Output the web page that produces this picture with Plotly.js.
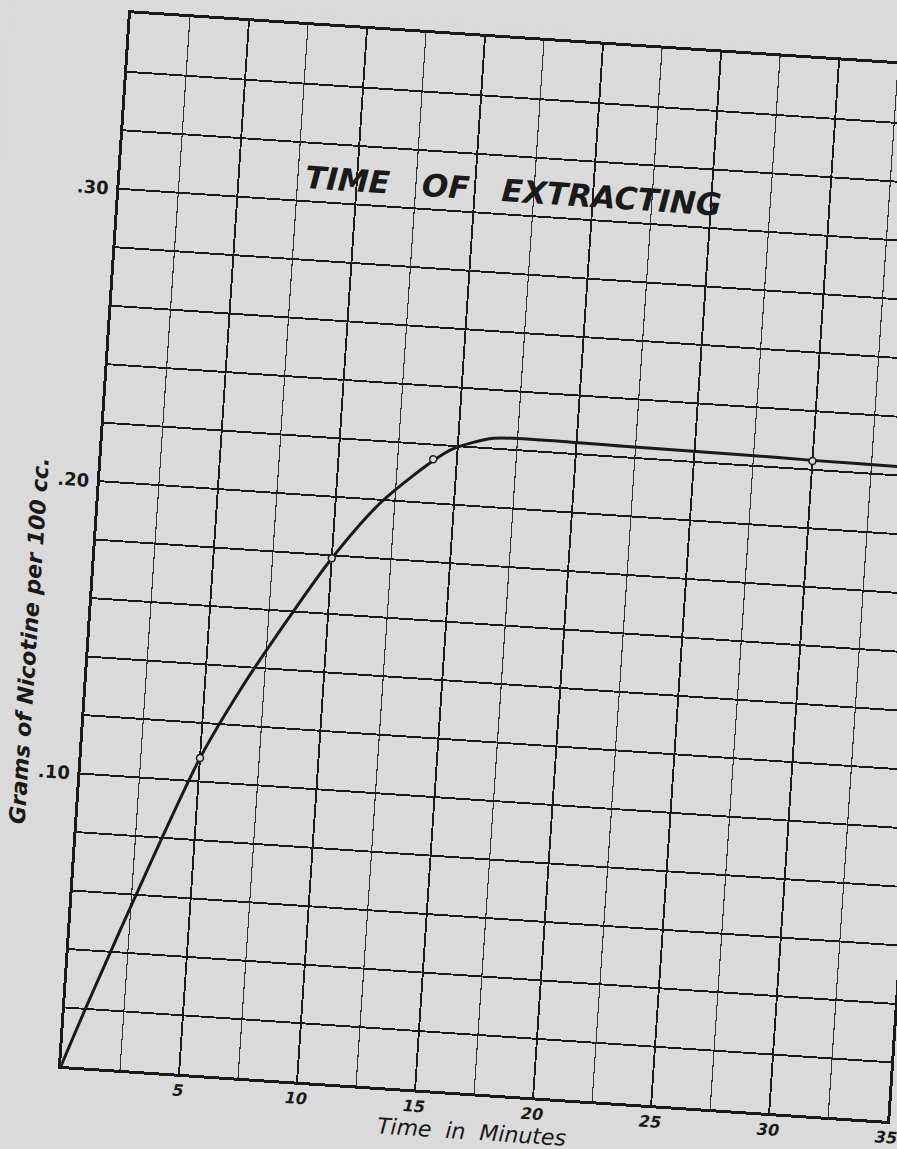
<!DOCTYPE html>
<html>
<head>
<meta charset="utf-8">
<script src="https://cdn.plot.ly/plotly-3.0.1.min.js"></script>
<style>
  html, body { margin:0; padding:0; background:#dadada; overflow:hidden; width:897px; height:1149px; position:relative; }
  #chart { position:absolute; left:-60px; top:0; width:1000px; height:1200px;
           transform: rotate(3.8deg); transform-origin: 121px 1066px; }
</style>
</head>
<body>
<div id="chart"></div>
<script>
// Observation points (open circles)
const pointMinutes  = [5, 10, 14, 30];
const pointNicotine = [0.108, 0.179, 0.215, 0.223];

// Hand-drawn curve
const curveMinutes  = [0, 1, 3.2, 5, 6.5, 8.3, 10, 11.9, 14, 14.8, 16.5, 18.5, 22, 27.4, 30, 33.6, 35];
const curveNicotine = [0, 0.023, 0.071, 0.108, 0.132, 0.157, 0.179, 0.199, 0.2145, 0.219, 0.2235, 0.224, 0.2237, 0.2235, 0.2232, 0.223, 0.2228];

// Axis ticks
const xTickVals  = [0, 5, 10, 15, 20, 25, 30, 35];
const xTickText  = ['', '5', '10', '15', '20', '25', '30', '35'];
const xMinorVals = [2.5, 7.5, 12.5, 17.5, 22.5, 27.5, 32.5];
const yTickVals  = [0, 0.02, 0.04, 0.06, 0.08, 0.10, 0.12, 0.14, 0.16, 0.18, 0.20, 0.22, 0.24, 0.26, 0.28, 0.30, 0.32, 0.34, 0.36];
const yTickText  = ['', '', '', '', '', '.10', '', '', '', '', '.20', '', '', '', '', '.30', '', '', ''];

const ink = '#1a1a1a';
const paper = '#dadada';
const letterFont = 'DejaVu Sans, Liberation Sans, sans-serif';

const traces = [
  {
    x: curveMinutes, y: curveNicotine, type: 'scatter', mode: 'lines',
    line: { color: ink, width: 3, shape: 'spline', smoothing: 0.8 },
    hoverinfo: 'skip', showlegend: false
  },
  {
    x: pointMinutes, y: pointNicotine, type: 'scatter', mode: 'markers',
    marker: { symbol: 'circle', size: 7, color: paper, line: { color: ink, width: 1.5 } },
    showlegend: false
  }
];

const layout = {
  width: 1000, height: 1200,
  margin: { l: 121, r: 51, t: 11, b: 134 },
  paper_bgcolor: paper, plot_bgcolor: paper,
  showlegend: false,
  title: {
    text: 'TIME   OF   EXTRACTING',
    xref: 'paper', yref: 'paper', x: 0.475, y: 0.856, xanchor: 'center', yanchor: 'middle',
    font: { family: letterFont, size: 31, color: ink, weight: 'bold', style: 'italic' }
  },
  xaxis: {
    range: [0, 35], fixedrange: true,
    tickmode: 'array', tickvals: xTickVals, ticktext: xTickText,
    ticks: '', ticklabelstandoff: 0,
    tickfont: { family: letterFont, size: 16, color: ink, weight: 'bold', style: 'italic' },
    showgrid: true, gridcolor: ink, gridwidth: 1.9,
    minor: { tickmode: 'array', tickvals: xMinorVals, showgrid: true, gridcolor: '#333333', gridwidth: 1.1, ticks: '' },
    showline: true, linecolor: ink, linewidth: 3, mirror: true,
    zeroline: false,
    title: { text: 'Time  in  Minutes', standoff: 0,
      font: { family: letterFont, size: 22, color: ink, style: 'italic' } }
  },
  yaxis: {
    range: [0, 0.36], fixedrange: true,
    tickmode: 'array', tickvals: yTickVals, ticktext: yTickText,
    ticks: '', ticklabelstandoff: 4,
    tickfont: { family: letterFont, size: 18, color: ink, weight: 'bold' },
    showgrid: true, gridcolor: ink, gridwidth: 1.9,
    showline: true, linecolor: ink, linewidth: 3, mirror: true,
    zeroline: false
  },
  annotations: [
    {
      text: 'Grams of Nicotine per 100 cc.',
      xref: 'paper', yref: 'paper', x: -0.073, y: 0.40,
      xanchor: 'center', yanchor: 'middle', textangle: -90, showarrow: false,
      font: { family: letterFont, size: 22, color: ink, weight: 'bold', style: 'italic' }
    }
  ]
};

Plotly.newPlot('chart', traces, layout, { staticPlot: true, displayModeBar: false });
</script>
</body>
</html>
